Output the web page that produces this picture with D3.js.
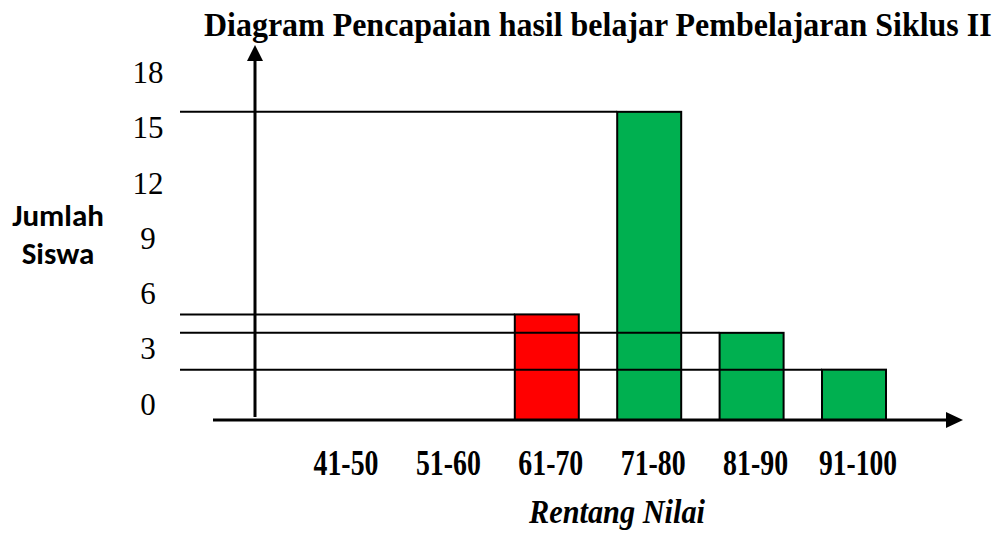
<!DOCTYPE html>
<html>
<head>
<meta charset="utf-8">
<script src="https://cdn.jsdelivr.net/npm/d3@7"></script>
<style>
    body { margin: 0; background: #fff; }
    svg { display: block; }
    .serif { font-family: 'Liberation Serif', 'Times New Roman', Times, serif; }
    .sans { font-family: Carlito, Calibri, Lato, 'Open Sans', sans-serif; }
</style>
</head>
<body>
<div id="chart"></div>
<script>
// Data.
var categories = ['41-50', '51-60', '61-70', '71-80', '81-90', '91-100'];
var values = [0, 0, 5, 16, 4, 2];
var barColors = ['#00b050', '#00b050', '#ff0000', '#00b050', '#00b050', '#00b050'];
var yTicks = [0, 3, 6, 9, 12, 15, 18];

var width = 1003, height = 535;
var axisX = 255;   // y axis position
var axisY = 420;   // x axis position (bars stand on it)

var svg = d3.select('#chart').append('svg')
    .attr('width', width)
    .attr('height', height);

// Scales.
var x = d3.scaleBand()
    .domain(categories)
    .range([310, 886])
    .paddingInner(0.375)
    .paddingOuter(0);

var y = d3.scaleLinear()
    .domain([0, 18])
    .range([406.5, 75]);

var bars = categories.map((c, i) => ({ cat: c, value: values[i], color: barColors[i] }))
    .filter(d => d.value > 0);

// Squeeze a text horizontally so it fits the given width (source fonts are condensed).
function condense(sel, x0, y0, targetWidth) {
    var w = sel.node().getComputedTextLength();
    sel.attr('transform', 'translate(' + x0 + ',' + y0 + ') scale(' + Math.min(1, targetWidth / w) + ',1)');
}

// Bars.
svg.selectAll('rect.bar')
    .data(bars)
    .enter()
    .append('rect')
    .attr('class', 'bar')
    .attr('x', d => x(d.cat))
    .attr('y', d => y(d.value))
    .attr('width', x.bandwidth())
    .attr('height', d => axisY - y(d.value))
    .attr('fill', d => d.color)
    .attr('stroke', '#000')
    .attr('stroke-width', 2);

// Guide lines from the left to each bar top.
svg.selectAll('line.guide')
    .data(bars)
    .enter()
    .append('line')
    .attr('class', 'guide')
    .attr('x1', 180)
    .attr('x2', d => x(d.cat))
    .attr('y1', d => y(d.value))
    .attr('y2', d => y(d.value))
    .attr('stroke', '#000')
    .attr('stroke-width', 2);

// Axes with arrow heads.
svg.append('line')
    .attr('x1', axisX).attr('x2', axisX)
    .attr('y1', 417).attr('y2', 58)
    .attr('stroke', '#000').attr('stroke-width', 3);
svg.append('path')
    .attr('d', d3.line()([[axisX - 8, 61], [axisX, 45], [axisX + 8, 61]]) + 'Z')
    .attr('fill', '#000');

svg.append('line')
    .attr('x1', 213).attr('x2', 950)
    .attr('y1', axisY).attr('y2', axisY)
    .attr('stroke', '#000').attr('stroke-width', 3);
svg.append('path')
    .attr('d', d3.line()([[946, axisY - 8], [963, axisY], [946, axisY + 8]]) + 'Z')
    .attr('fill', '#000');

// Y tick labels.
svg.selectAll('text.ytick')
    .data(yTicks)
    .enter()
    .append('text')
    .attr('class', 'ytick serif')
    .attr('x', 148)
    .attr('y', d => y(d) + 8)
    .attr('text-anchor', 'middle')
    .style('font-size', '31px')
    .text(d => d);

// X category labels.
svg.selectAll('text.xtick')
    .data(categories)
    .enter()
    .append('text')
    .attr('class', 'xtick serif')
    .attr('text-anchor', 'middle')
    .style('font-weight', 'bold')
    .style('font-size', '36px')
    .text(d => d)
    .each(function(d) {
        condense(d3.select(this), x(d) + x.bandwidth() / 2 + 4, 475, d.length * 13);
    });

// Title.
var title = svg.append('text')
    .attr('class', 'serif')
    .style('font-weight', 'bold')
    .style('font-size', '34px')
    .text('Diagram Pencapaian hasil belajar Pembelajaran Siklus II');
condense(title, 204, 36, 788);

// Axis titles.
var yTitle = svg.append('text')
    .attr('class', 'sans')
    .attr('text-anchor', 'middle')
    .style('font-weight', 'bold')
    .style('font-size', '31px');
yTitle.append('tspan').attr('x', 58).attr('y', 226).text('Jumlah');
yTitle.append('tspan').attr('x', 58).attr('y', 264).text('Siswa');

var xTitle = svg.append('text')
    .attr('class', 'serif')
    .attr('text-anchor', 'middle')
    .style('font-weight', 'bold')
    .style('font-style', 'italic')
    .style('font-size', '34px')
    .text('Rentang Nilai');
condense(xTitle, 617, 523, 176);
</script>
</body>
</html>
